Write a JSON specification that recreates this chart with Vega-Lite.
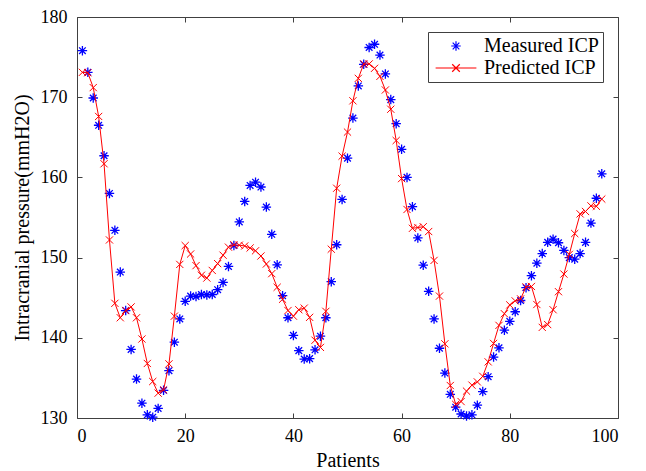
{
  "$schema": "https://vega.github.io/schema/vega-lite/v6.json",
  "width": 541,
  "height": 401,
  "autosize": {"type": "none"},
  "padding": {"left": 77, "top": 17, "right": 28, "bottom": 53},
  "background": "white",
  "config": {
    "view": {"stroke": "#404040", "strokeWidth": 1},
    "font": "Liberation Serif",
    "axis": {
      "labelFont": "Liberation Serif", "labelFontSize": 18, "labelColor": "#000",
      "titleFont": "Liberation Serif", "titleFontSize": 20, "titleFontWeight": "normal", "titleColor": "#000",
      "tickColor": "#404040", "tickSize": -5, "domain": false, "grid": false
    }
  },
  "datasets": {
    "m": [
      {"patient":1,"icp":175.8},{"patient":2,"icp":173.1},{"patient":3,"icp":169.9},{"patient":4,"icp":166.5},{"patient":5,"icp":162.7},
      {"patient":6,"icp":158.0},{"patient":7,"icp":153.4},{"patient":8,"icp":148.2},{"patient":9,"icp":143.4},{"patient":10,"icp":138.55},
      {"patient":11,"icp":134.85},{"patient":12,"icp":131.85},{"patient":13,"icp":130.4},{"patient":14,"icp":130.1},{"patient":15,"icp":131.2},
      {"patient":16,"icp":133.45},{"patient":17,"icp":135.9},{"patient":18,"icp":139.45},{"patient":19,"icp":142.35},{"patient":20,"icp":144.55},
      {"patient":21,"icp":145.2},{"patient":22,"icp":145.15},{"patient":23,"icp":145.4},{"patient":24,"icp":145.35},{"patient":25,"icp":145.4},
      {"patient":26,"icp":146.0},{"patient":27,"icp":146.9},{"patient":28,"icp":148.9},{"patient":29,"icp":151.5},{"patient":30,"icp":154.45},
      {"patient":31,"icp":157.0},{"patient":32,"icp":159.0},{"patient":33,"icp":159.4},{"patient":34,"icp":158.8},{"patient":35,"icp":156.3},
      {"patient":36,"icp":152.9},{"patient":37,"icp":149.1},{"patient":38,"icp":145.25},{"patient":39,"icp":142.5},{"patient":40,"icp":140.3},
      {"patient":41,"icp":138.4},{"patient":42,"icp":137.35},{"patient":43,"icp":137.4},{"patient":44,"icp":138.5},{"patient":45,"icp":140.2},
      {"patient":46,"icp":142.5},{"patient":47,"icp":147.0},{"patient":48,"icp":151.6},{"patient":49,"icp":157.25},{"patient":50,"icp":162.4},
      {"patient":51,"icp":167.4},{"patient":52,"icp":171.4},{"patient":53,"icp":174.1},{"patient":54,"icp":176.2},{"patient":55,"icp":176.6},
      {"patient":56,"icp":175.25},{"patient":57,"icp":172.9},{"patient":58,"icp":169.7},{"patient":59,"icp":166.7},{"patient":60,"icp":163.5},
      {"patient":61,"icp":160.0},{"patient":62,"icp":156.35},{"patient":63,"icp":152.45},{"patient":64,"icp":149.05},{"patient":65,"icp":145.8},
      {"patient":66,"icp":142.35},{"patient":67,"icp":138.7},{"patient":68,"icp":135.6},{"patient":69,"icp":132.95},{"patient":70,"icp":131.35},
      {"patient":71,"icp":130.5},{"patient":72,"icp":130.25},{"patient":73,"icp":130.4},{"patient":74,"icp":131.6},{"patient":75,"icp":133.3},
      {"patient":76,"icp":135.15},{"patient":77,"icp":137.6},{"patient":78,"icp":138.75},{"patient":79,"icp":140.95},{"patient":80,"icp":142.05},
      {"patient":81,"icp":143.25},{"patient":82,"icp":144.65},{"patient":83,"icp":146.25},{"patient":84,"icp":147.75},{"patient":85,"icp":149.3},
      {"patient":86,"icp":150.5},{"patient":87,"icp":151.9},{"patient":88,"icp":152.3},{"patient":89,"icp":151.85},{"patient":90,"icp":150.9},
      {"patient":91,"icp":150.0},{"patient":92,"icp":149.8},{"patient":93,"icp":150.5},{"patient":94,"icp":151.9},{"patient":95,"icp":154.3},
      {"patient":96,"icp":157.4},{"patient":97,"icp":160.45}
    ],
    "p": [
      {"patient":1,"icp":173.1},{"patient":2,"icp":173.05},{"patient":3,"icp":171.2},{"patient":4,"icp":167.6},{"patient":5,"icp":161.7},
      {"patient":6,"icp":152.2},{"patient":7,"icp":144.3},{"patient":8,"icp":142.5},{"patient":9,"icp":143.4},{"patient":10,"icp":143.85},
      {"patient":11,"icp":142.5},{"patient":12,"icp":139.85},{"patient":13,"icp":136.8},{"patient":14,"icp":134.55},{"patient":15,"icp":133.1},
      {"patient":16,"icp":133.5},{"patient":17,"icp":136.75},{"patient":18,"icp":142.7},{"patient":19,"icp":149.15},{"patient":20,"icp":151.5},
      {"patient":21,"icp":150.45},{"patient":22,"icp":149.0},{"patient":23,"icp":147.8},{"patient":24,"icp":147.45},{"patient":25,"icp":148.4},
      {"patient":26,"icp":149.25},{"patient":27,"icp":150.3},{"patient":28,"icp":151.3},{"patient":29,"icp":151.6},{"patient":30,"icp":151.55},
      {"patient":31,"icp":151.45},{"patient":32,"icp":151.2},{"patient":33,"icp":150.85},{"patient":34,"icp":150.2},{"patient":35,"icp":149.2},
      {"patient":36,"icp":148.0},{"patient":37,"icp":146.3},{"patient":38,"icp":144.8},{"patient":39,"icp":143.4},{"patient":40,"icp":142.7},
      {"patient":41,"icp":143.5},{"patient":42,"icp":143.7},{"patient":43,"icp":142.55},{"patient":44,"icp":139.7},{"patient":45,"icp":138.8},
      {"patient":46,"icp":143.3},{"patient":47,"icp":151.05},{"patient":48,"icp":158.65},{"patient":49,"icp":162.65},{"patient":50,"icp":165.65},
      {"patient":51,"icp":169.55},{"patient":52,"icp":172.35},{"patient":53,"icp":174.15},{"patient":54,"icp":174.15},{"patient":55,"icp":173.6},
      {"patient":56,"icp":172.6},{"patient":57,"icp":170.9},{"patient":58,"icp":168.5},{"patient":59,"icp":164.6},{"patient":60,"icp":159.85},
      {"patient":61,"icp":156.0},{"patient":62,"icp":153.65},{"patient":63,"icp":153.75},{"patient":64,"icp":153.85},{"patient":65,"icp":153.25},
      {"patient":66,"icp":149.65},{"patient":67,"icp":145.2},{"patient":68,"icp":139.25},{"patient":69,"icp":134.05},{"patient":70,"icp":131.7},
      {"patient":71,"icp":132.05},{"patient":72,"icp":133.35},{"patient":73,"icp":134.1},{"patient":74,"icp":134.5},{"patient":75,"icp":135.2},
      {"patient":76,"icp":137.0},{"patient":77,"icp":139.3},{"patient":78,"icp":141.55},{"patient":79,"icp":143.0},{"patient":80,"icp":144.1},
      {"patient":81,"icp":144.6},{"patient":82,"icp":144.85},{"patient":83,"icp":146.35},{"patient":84,"icp":146.4},{"patient":85,"icp":144.15},
      {"patient":86,"icp":141.3},{"patient":87,"icp":141.65},{"patient":88,"icp":143.5},{"patient":89,"icp":145.75},{"patient":90,"icp":147.95},
      {"patient":91,"icp":150.4},{"patient":92,"icp":153.0},{"patient":93,"icp":155.45},{"patient":94,"icp":155.75},{"patient":95,"icp":156.45},
      {"patient":96,"icp":156.4},{"patient":97,"icp":157.3}
    ]
  },
  "layer": [
    {
      "data": {"name": "m"},
      "mark": {"type": "point", "filled": false, "strokeWidth": 1.3, "size": 90, "opacity": 1},
      "encoding": {
        "x": {"field": "patient", "type": "quantitative", "scale": {"domain": [0, 100], "nice": false},
              "axis": {"orient": "bottom", "values": [0,20,40,60,80,100], "title": "Patients", "labelPadding": 14, "titlePadding": 5}},
        "y": {"field": "icp", "type": "quantitative", "scale": {"domain": [130, 180], "nice": false, "zero": false},
              "axis": {"orient": "left", "values": [130,140,150,160,170,180], "title": "Intracranial pressure(mmH2O)", "labelPadding": 15, "titlePadding": 8}},
        "color": {"datum": "Measured ICP", "type": "nominal",
                  "scale": {"domain": ["Measured ICP", "Predicted ICP"], "range": ["#0000FF", "#FF0000"]},
                  "legend": {"title": null, "orient": "top-right", "offset": 15, "padding": 4,
                             "fillColor": "white", "strokeColor": "#404040",
                             "labelFont": "Liberation Serif", "labelFontSize": 20, "labelColor": "#000",
                             "symbolSize": 90, "symbolStrokeWidth": 1.2, "symbolOffset": 14, "labelOffset": 18, "rowPadding": 2}},
        "shape": {"datum": "Measured ICP", "type": "nominal",
                  "scale": {"domain": ["Measured ICP", "Predicted ICP"],
                            "range": ["M-1,0L1,0M0,-1L0,1M-0.7,-0.7L0.7,0.7M-0.7,0.7L0.7,-0.7", "M-4.3,0L4.3,0M-0.8,-0.8L0.8,0.8M-0.8,0.8L0.8,-0.8"]},
                  "legend": {"title": null, "orient": "top-right", "offset": 15, "padding": 4,
                             "fillColor": "white", "strokeColor": "#404040",
                             "labelFont": "Liberation Serif", "labelFontSize": 20, "labelColor": "#000",
                             "symbolSize": 90, "symbolStrokeWidth": 1.2, "symbolOffset": 14, "labelOffset": 18, "rowPadding": 2}}
      }
    },
    {
      "data": {"name": "p"},
      "mark": {"type": "line", "color": "#FF0000", "strokeWidth": 1},
      "encoding": {
        "x": {"field": "patient", "type": "quantitative", "axis": {"orient": "top", "values": [0,20,40,60,80,100], "labels": false, "title": null}},
        "y": {"field": "icp", "type": "quantitative", "axis": {"orient": "right", "values": [130,140,150,160,170,180], "labels": false, "title": null}}
      }
    },
    {
      "data": {"name": "p"},
      "mark": {"type": "point", "filled": false, "color": "#FF0000", "strokeWidth": 1, "size": 64, "opacity": 1,
               "shape": "M-0.9,-0.9L0.9,0.9M-0.9,0.9L0.9,-0.9"},
      "encoding": {
        "x": {"field": "patient", "type": "quantitative", "axis": null},
        "y": {"field": "icp", "type": "quantitative", "axis": null}
      }
    }
  ],
  "resolve": {"axis": {"x": "independent", "y": "independent"}}
}
